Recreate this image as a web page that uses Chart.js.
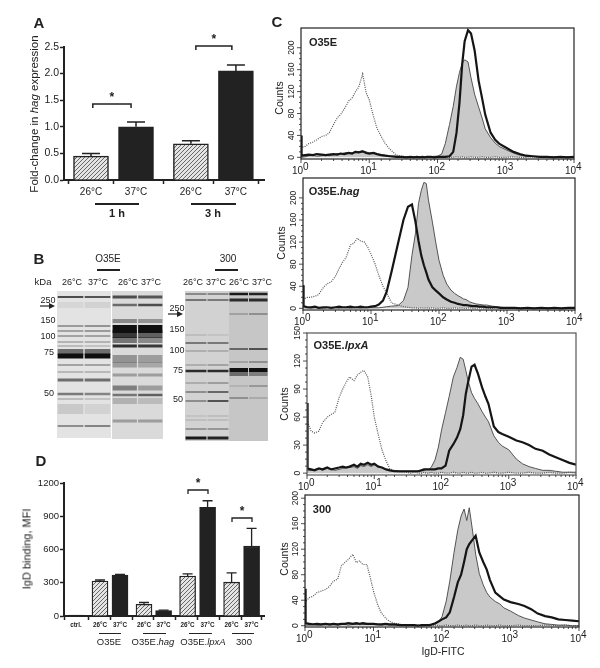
<!DOCTYPE html>
<html>
<head>
<meta charset="utf-8">
<title>hag expression and IgD binding</title>
<script src="https://cdn.jsdelivr.net/npm/chart.js@4"></script>
<style>
  html, body { margin: 0; padding: 0; background: #fff; }
  #page { position: relative; width: 600px; height: 668px; overflow: hidden; font-family: "Liberation Sans", Arial, sans-serif; color: #222; filter: blur(0.3px); }
  canvas { position: absolute; }
  canvas.gel { filter: blur(0.7px); }
  .t { position: absolute; transform: translate(-50%, -50%); white-space: nowrap; font-size: 10px; line-height: 1; }
  .v { transform: translate(-50%, -50%) rotate(-90deg); }
  .b { font-weight: bold; }
  .letter { font-size: 15px; font-weight: bold; }
  .rule { position: absolute; height: 1.5px; background: #222; }
</style>
</head>
<body>
<div id="page">
  <div class="t letter" style="left:39px;top:22px">A</div>
  <div class="t letter" style="left:39px;top:258px">B</div>
  <div class="t letter" style="left:277px;top:21px">C</div>
  <div class="t letter" style="left:41px;top:460px">D</div>

  <canvas id="barsA"></canvas>
  <div class="t v" style="left:35px;top:114px;font-size:11.5px">Fold-change in <i>hag</i> expression</div>
  <div class="rule" style="left:95px;top:203px;width:44px"></div>
  <div class="rule" style="left:191px;top:203px;width:45px"></div>
  <div class="t b" style="left:117px;top:213px;font-size:11px">1 h</div>
  <div class="t b" style="left:213px;top:213px;font-size:11px">3 h</div>

  <div class="t" style="left:108px;top:259px;font-size:10px">O35E</div>
  <div class="rule" style="left:97px;top:269px;width:23px"></div>
  <div class="t" style="left:228px;top:259px;font-size:10px">300</div>
  <div class="rule" style="left:215px;top:269px;width:23px"></div>
  <div class="t" style="left:43px;top:282px;font-size:9.5px">kDa</div>
  <div class="t" style="left:72px;top:282px;font-size:9px">26°C</div>
  <div class="t" style="left:98px;top:282px;font-size:9px">37°C</div>
  <div class="t" style="left:128px;top:282px;font-size:9px">26°C</div>
  <div class="t" style="left:151px;top:282px;font-size:9px">37°C</div>
  <div class="t" style="left:193px;top:282px;font-size:9px">26°C</div>
  <div class="t" style="left:216px;top:282px;font-size:9px">37°C</div>
  <div class="t" style="left:239px;top:282px;font-size:9px">26°C</div>
  <div class="t" style="left:262px;top:282px;font-size:9px">37°C</div>
  <canvas id="gel1" class="gel"></canvas>
  <canvas id="gel2" class="gel"></canvas>
  <canvas id="gel3" class="gel"></canvas>
  <canvas id="gel4" class="gel"></canvas>
  <div class="t" style="left:48px;top:300px;font-size:9px">250</div>
  <div class="t" style="left:48px;top:320px;font-size:9px">150</div>
  <div class="t" style="left:48px;top:336px;font-size:9px">100</div>
  <div class="t" style="left:49px;top:352px;font-size:9px">75</div>
  <div class="t" style="left:49px;top:393px;font-size:9px">50</div>
  <div class="t" style="left:177px;top:308px;font-size:9px">250</div>
  <div class="t" style="left:177px;top:329px;font-size:9px">150</div>
  <div class="t" style="left:177px;top:350px;font-size:9px">100</div>
  <div class="t" style="left:178px;top:370px;font-size:9px">75</div>
  <div class="t" style="left:178px;top:399px;font-size:9px">50</div>
  <svg style="position:absolute;left:40px;top:302px" width="16" height="8"><path d="M0 4H10" stroke="#222" stroke-width="1.2"/><path d="M9 1L15 4L9 7Z" fill="#222"/></svg>
  <svg style="position:absolute;left:168px;top:310px" width="16" height="8"><path d="M0 4H10" stroke="#222" stroke-width="1.2"/><path d="M9 1L15 4L9 7Z" fill="#222"/></svg>

  <canvas id="barsD"></canvas>
  <div class="t v" style="left:27px;top:549px;font-size:11px">IgD binding, MFI</div>
  <div class="rule" style="left:99px;top:633px;width:22px;height:1px"></div>
  <div class="rule" style="left:143px;top:633px;width:23px;height:1px"></div>
  <div class="rule" style="left:189px;top:633px;width:23px;height:1px"></div>
  <div class="rule" style="left:232px;top:633px;width:22px;height:1px"></div>
  <div class="t" style="left:109px;top:642px;font-size:9.5px">O35E</div>
  <div class="t" style="left:153px;top:642px;font-size:9.5px">O35E.<i>hag</i></div>
  <div class="t" style="left:203px;top:642px;font-size:9.5px">O35E.<i>lpxA</i></div>
  <div class="t" style="left:244px;top:642px;font-size:9.5px">300</div>

  <canvas id="flow1"></canvas>
  <canvas id="flow2"></canvas>
  <canvas id="flow3"></canvas>
  <canvas id="flow4"></canvas>
  <div class="t v" style="left:279px;top:98px;font-size:10.5px">Counts</div>
  <div class="t v" style="left:281px;top:243px;font-size:10.5px">Counts</div>
  <div class="t v" style="left:284px;top:404px;font-size:10.5px">Counts</div>
  <div class="t v" style="left:284px;top:559px;font-size:10.5px">Counts</div>
  <div class="t b" style="left:323px;top:42px;font-size:11px">O35E</div>
  <div class="t b" style="left:334px;top:191px;font-size:11px">O35E.<i>hag</i></div>
  <div class="t b" style="left:341px;top:345px;font-size:11px">O35E.<i>lpxA</i></div>
  <div class="t b" style="left:322px;top:509px;font-size:11px">300</div>
  <div class="t" style="left:443px;top:651px;font-size:10.5px">IgD-FITC</div>
</div>

<script>
// panel A
const hagLabels = ["26°C", "37°C", "26°C", "37°C"];
const hagSlots = [0, 1, 2.22, 3.22];
const hagValues = [0.45, 1.0, 0.68, 2.05];
const hagErrors = [0.05, 0.09, 0.06, 0.11];

// panel D
const igdLabels = ["ctrl.", "26°C", "37°C", "26°C", "37°C", "26°C", "37°C", "26°C", "37°C"];
const igdSlots = [0, 1.2, 2.2, 3.4, 4.38, 5.58, 6.58, 7.78, 8.78];
const igdValues = [8, 315, 370, 105, 50, 360, 980, 305, 630];
const igdErrors = [0, 10, 5, 17, 3, 20, 60, 85, 160];

// panel B, band position down the gel, band thickness, then darkness per lane
const gel1Pos = [6, 14, 35, 40, 45, 51, 55, 61, 65, 74, 81, 89, 103, 108, 118, 135];
const gel1Thick = [1.5, 6, 1.5, 1.5, 1.5, 1.5, 1.5, 6, 5, 2, 2, 3, 2.5, 1.5, 10, 2];
const gel1Lane26 = [0.95, 0.06, 0.45, 0.4, 0.4, 0.3, 0.25, 0.55, 1, 0.3, 0.2, 0.55, 0.5, 0.25, 0.12, 0.4];
const gel1Lane37 = [0.9, 0.08, 0.5, 0.45, 0.4, 0.3, 0.2, 0.55, 1, 0.3, 0.2, 0.55, 0.45, 0.2, 0.08, 0.45];

const gel2Pos = [6, 14, 30, 38, 43, 49, 55, 68, 74, 84, 97, 104, 110, 130];
const gel2Thick = [3, 2.5, 4, 8, 8, 6, 3, 8, 5, 3, 5, 2.5, 6, 3];
const gel2Lane26 = [0.7, 0.55, 0.4, 1, 0.8, 0.5, 0.85, 0.35, 0.3, 0.3, 0.45, 0.5, 0.2, 0.3];
const gel2Lane37 = [0.65, 0.7, 0.35, 1, 0.6, 0.4, 0.8, 0.3, 0.25, 0.3, 0.3, 0.6, 0.15, 0.3];

const gel3Pos = [3, 9, 44, 52, 60, 74, 80, 92, 101, 110, 125, 129, 138, 147];
const gel3Thick = [1, 1.2, 1, 1.3, 1.2, 1.2, 2.5, 1.5, 2, 2, 1, 1, 2, 3];
const gel3Lane26 = [0.75, 0.8, 0.2, 0.7, 0.3, 0.3, 0.85, 0.25, 0.35, 0.35, 0.15, 0.2, 0.3, 0.95];
const gel3Lane37 = [0.75, 0.75, 0.15, 0.7, 0.3, 0.4, 0.85, 0.35, 0.55, 0.65, 0.2, 0.2, 0.3, 0.9];

const gel4Pos = [3, 9, 23, 58, 71, 79, 83, 95, 107];
const gel4Thick = [2.5, 3, 1, 1.5, 2, 4, 4, 2, 2];
const gel4Lane26 = [0.95, 0.85, 0.4, 0.7, 0.2, 1, 0.5, 0.1, 0.3];
const gel4Lane37 = [0.9, 0.85, 0.6, 0.85, 0.3, 1, 0.4, 0.25, 0.15];

// panel C, IgD-FITC channel shared by every histogram
const fitcChannels = [
  1, 1.02, 1.15, 1.3, 1.5, 1.7, 2, 2.3, 2.6, 3, 3.4, 3.8, 4.3, 5, 5.6, 6.3, 7, 8, 9,
  10, 11.5, 13, 15, 17, 20, 25, 30, 35, 40, 45, 50, 55, 60, 65, 70, 80, 90,
  100, 115, 130, 150, 170, 190, 210, 230, 250, 280, 310, 350, 400, 450, 500, 600, 700, 800,
  1000, 1300, 1600, 2000, 2500, 3200, 4000, 5000, 6300, 8000, 10000
];

const o35eIsotype = [
  16, 18, 20, 25, 28, 32, 38, 40, 45, 60, 72, 78, 88, 103, 108, 120, 128, 152, 118,
  105, 75, 53, 38, 26, 15, 4, 2, 1, 1, 0, 1, 0, 0, 1, 0, 0, 1,
  1, 0, 1, 0, 0, 1, 0, 1, 0, 0, 1, 0, 0, 1, 0, 0, 1, 0,
  0, 1, 0, 0, 1, 0, 0, 1, 0, 0, 0
];
const o35e26 = [
  0, 0, 1, 3, 4, 2, 3, 4, 3, 5, 7, 6, 8, 9, 8, 11, 10, 12, 10,
  8, 9, 6, 5, 4, 3, 2, 1, 1, 0, 1, 0, 1, 0, 1, 0, 1, 2,
  2, 6, 25, 60, 93, 130, 155, 172, 178, 174, 145, 115, 92, 72, 52, 36, 26, 20,
  14, 8, 4, 2, 2, 1, 1, 1, 0, 1, 1
];
const o35e37 = [
  40, 3, 4, 5, 4, 6, 5, 4, 5, 6, 5, 7, 6, 8, 7, 10, 9, 11, 8,
  7, 8, 6, 4, 3, 2, 1, 1, 0, 1, 0, 1, 0, 1, 0, 1, 1, 0,
  1, 1, 1, 2, 10, 45, 100, 170, 212, 232, 226, 195, 140, 108, 78, 45, 32, 25,
  18, 10, 6, 3, 2, 1, 1, 0, 1, 0, 1
];

const hagIsotype = [
  18, 17, 20, 20, 22, 25, 38, 45, 48, 58, 72, 83, 92, 115, 118, 127, 122, 120, 110,
  98, 80, 60, 40, 28, 10, 6, 3, 2, 1, 1, 0, 1, 0, 1, 0, 1, 0,
  0, 1, 0, 0, 1, 0, 1, 0, 0, 1, 0, 0, 1, 0, 0, 0, 1, 0,
  0, 0, 1, 0, 0, 1, 0, 0, 0, 1, 0
];
const hag26 = [
  1, 1, 1, 0, 1, 1, 0, 1, 1, 1, 0, 1, 1, 0, 1, 1, 0, 1, 1,
  1, 1, 1, 2, 3, 4, 5, 14, 38, 96, 135, 190, 214, 228, 226, 196, 156, 118,
  87, 60, 44, 33, 27, 23, 20, 17, 16, 12, 10, 8, 7, 6, 6, 4, 3, 2,
  1, 1, 0, 1, 0, 0, 1, 0, 0, 1, 0
];
const hag37 = [
  42, 4, 2, 2, 3, 1, 2, 2, 1, 2, 3, 2, 2, 3, 2, 2, 3, 2, 2,
  3, 4, 7, 14, 30, 66, 118, 160, 184, 188, 157, 122, 95, 78, 65, 52, 38, 32,
  27, 20, 16, 12, 10, 8, 7, 6, 6, 5, 4, 4, 3, 3, 2, 2, 2, 1,
  1, 1, 0, 1, 0, 1, 0, 1, 0, 1, 1
];

const lpxaIsotype = [
  41, 55, 45, 43, 45, 54, 60, 63, 65, 81, 90, 97, 103, 99, 105, 108, 110, 103, 83,
  60, 41, 25, 13, 5, 2, 1, 1, 0, 1, 0, 0, 1, 0, 0, 1, 0, 0,
  1, 0, 0, 1, 0, 0, 1, 0, 0, 1, 0, 0, 1, 0, 0, 1, 0, 0,
  1, 0, 0, 1, 0, 0, 1, 0, 0, 1, 0
];
const lpxa26 = [
  3, 3, 3, 4, 5, 3, 5, 4, 3, 4, 5, 6, 6, 7, 5, 8, 7, 9, 7,
  9, 6, 6, 4, 3, 3, 2, 2, 2, 2, 2, 3, 3, 4, 4, 6, 14, 28,
  46, 65, 82, 103, 113, 124, 122, 110, 98, 86, 80, 74, 66, 60, 55, 40, 33, 29,
  25, 15, 10, 7, 5, 3, 3, 2, 1, 1, 1
];
const lpxa37 = [
  75, 5, 4, 3, 5, 4, 6, 4, 5, 6, 7, 6, 7, 9, 7, 10, 9, 11, 9,
  10, 7, 6, 4, 3, 2, 2, 2, 2, 2, 2, 3, 4, 4, 4, 4, 4, 5,
  5, 8, 24, 31, 38, 47, 62, 85, 98, 114, 116, 106, 92, 82, 74, 50, 44, 42,
  39, 35, 33, 30, 26, 24, 20, 17, 14, 11, 9
];

const s300Isotype = [
  36, 38, 44, 46, 52, 54, 57, 62, 70, 73, 94, 99, 104, 112, 99, 102, 96, 96, 75,
  54, 33, 20, 12, 7, 4, 2, 1, 1, 0, 1, 0, 0, 1, 0, 0, 1, 0,
  0, 1, 0, 0, 1, 0, 0, 1, 0, 0, 1, 0, 0, 1, 0, 0, 1, 0,
  0, 1, 0, 0, 0, 1, 0, 0, 1, 0, 0
];
const s30026 = [
  1, 1, 1, 2, 1, 1, 2, 1, 2, 1, 2, 2, 1, 2, 2, 3, 2, 2, 3,
  2, 2, 1, 2, 1, 1, 1, 0, 1, 0, 1, 0, 0, 1, 0, 1, 3, 7,
  14, 38, 70, 115, 150, 172, 183, 165, 185, 148, 112, 82, 64, 52, 45, 38, 34, 28,
  23, 16, 12, 9, 6, 3, 2, 1, 1, 0, 0
];
const s30037 = [
  58, 4, 3, 2, 3, 2, 3, 2, 3, 2, 3, 3, 4, 3, 4, 3, 4, 3, 3,
  3, 2, 2, 3, 2, 2, 1, 1, 1, 1, 0, 1, 1, 1, 1, 2, 4, 7,
  10, 13, 21, 45, 68, 80, 100, 120, 128, 135, 141, 115, 100, 88, 72, 52, 46, 41,
  37, 34, 31, 26, 19, 15, 13, 10, 9, 8, 7
];

// diagonal hatch used for the 26°C bars
function hatchPattern() {
  const c = document.createElement("canvas");
  c.width = 4;
  c.height = 4;
  const g = c.getContext("2d");
  g.fillStyle = "#e4e4e4";
  g.fillRect(0, 0, 4, 4);
  g.strokeStyle = "#666";
  g.lineWidth = 1;
  g.beginPath();
  g.moveTo(-1, 1); g.lineTo(1, -1);
  g.moveTo(0, 4); g.lineTo(4, 0);
  g.moveTo(3, 5); g.lineTo(5, 3);
  g.stroke();
  return document.getElementsByTagName("canvas")[0].getContext("2d").createPattern(c, "repeat");
}

function place(id, left, top, width, height) {
  const canvas = document.getElementById(id);
  canvas.width = width;
  canvas.height = height;
  canvas.style.left = left + "px";
  canvas.style.top = top + "px";
  return canvas;
}

// error whiskers and significance brackets, placed through the chart's scales
const barMarks = {
  id: "barMarks",
  afterDatasetsDraw(chart, args, opts) {
    const { ctx, scales: { x, y } } = chart;
    ctx.save();
    ctx.strokeStyle = "#222";
    ctx.fillStyle = "#222";
    ctx.lineWidth = opts.lineWidth;
    opts.slots.forEach((slot, i) => {
      if (!opts.errors[i]) return;
      const px = x.getPixelForValue(slot);
      const top = y.getPixelForValue(opts.values[i] + opts.errors[i]);
      ctx.beginPath();
      ctx.moveTo(px, y.getPixelForValue(opts.values[i]));
      ctx.lineTo(px, top);
      ctx.moveTo(px - opts.cap, top);
      ctx.lineTo(px + opts.cap, top);
      ctx.stroke();
    });
    ctx.textAlign = "center";
    ctx.textBaseline = "middle";
    ctx.font = "bold 12px 'Liberation Sans'";
    opts.brackets.forEach(([from, to, level]) => {
      const x0 = x.getPixelForValue(from);
      const x1 = x.getPixelForValue(to);
      const py = y.getPixelForValue(level);
      ctx.beginPath();
      ctx.moveTo(x0, py + 4);
      ctx.lineTo(x0, py);
      ctx.lineTo(x1, py);
      ctx.lineTo(x1, py + 4);
      ctx.stroke();
      ctx.fillText("*", (x0 + x1) / 2, py - 6);
    });
    ctx.restore();
  }
};

function makeBars(id, box, cfg) {
  const canvas = place(id, box.left, box.top, box.width, box.height);
  const pattern = hatchPattern();
  return new Chart(canvas, {
    type: "bar",
    data: {
      datasets: [{
        data: cfg.slots.map((x, i) => ({ x, y: cfg.values[i] })),
        backgroundColor: cfg.slots.map((x, i) => cfg.hatched(i) ? pattern : "#222"),
        borderColor: "#222",
        borderWidth: cfg.barBorder,
        barThickness: cfg.barPx
      }]
    },
    options: {
      responsive: false,
      animation: false,
      layout: { padding: { top: box.padTop, right: box.padRight, left: 0, bottom: 0 } },
      plugins: {
        legend: { display: false },
        tooltip: { enabled: false },
        barMarks: {
          slots: cfg.slots, values: cfg.values, errors: cfg.errors,
          brackets: cfg.brackets, cap: cfg.cap, lineWidth: cfg.markWidth
        }
      },
      scales: {
        x: {
          type: "linear", min: cfg.xMin, max: cfg.xMax, offset: false,
          border: { color: "#222", width: 2 },
          grid: { drawOnChartArea: false, tickLength: 4, tickColor: "#222", tickWidth: 1.5 },
          afterBuildTicks: s => { s.ticks = cfg.slots.map(value => ({ value })); },
          afterFit: s => { s.height = box.axisBottom; },
          ticks: {
            autoSkip: false, maxRotation: 0, padding: cfg.xPad, color: "#222",
            font: { family: "Liberation Sans", size: cfg.xFont, weight: cfg.xWeight },
            callback: (v, i) => cfg.labels[i]
          }
        },
        y: {
          min: 0, max: cfg.yMax,
          border: { color: "#222", width: 2 },
          grid: { drawOnChartArea: false, tickLength: 4, tickColor: "#222", tickWidth: 1.5 },
          afterBuildTicks: s => { s.ticks = cfg.yTicks.map(value => ({ value })); },
          afterFit: s => { s.width = box.axisLeft; },
          ticks: {
            padding: 1, color: "#222",
            font: { family: "Liberation Sans", size: cfg.yFont },
            callback: cfg.yFormat
          }
        }
      }
    },
    plugins: [barMarks]
  });
}

// one gel: floating bars on two lanes, hidden axes
function makeGel(id, box, pos, thick, lane26, lane37) {
  const canvas = place(id, box.left, box.top, box.width, box.height);
  canvas.style.background = box.bg;
  return new Chart(canvas, {
    type: "bar",
    data: {
      labels: ["26°C", "37°C"],
      datasets: pos.map((p, i) => ({
        data: [[p - thick[i] / 2, p + thick[i] / 2], [p - thick[i] / 2, p + thick[i] / 2]],
        backgroundColor: [`rgba(15,15,15,${lane26[i]})`, `rgba(15,15,15,${lane37[i]})`],
        borderWidth: 0,
        grouped: false,
        barPercentage: 0.95,
        categoryPercentage: 1
      }))
    },
    options: {
      responsive: false,
      animation: false,
      layout: { padding: 0 },
      plugins: { legend: { display: false }, tooltip: { enabled: false } },
      scales: {
        x: { display: false },
        y: { display: false, reverse: true, min: 0, max: box.height }
      }
    }
  });
}

// frame, ticks and tick labels of a flow histogram
const flowFrame = {
  id: "flowFrame",
  afterDatasetsDraw(chart, args, opts) {
    const { ctx, chartArea: a, scales: { x, y } } = chart;
    ctx.save();
    ctx.strokeStyle = opts.frameColor;
    ctx.lineWidth = 1.2;
    ctx.strokeRect(a.left, a.top, a.right - a.left, a.bottom - a.top);
    ctx.strokeStyle = "#222";
    ctx.fillStyle = "#222";
    ctx.lineWidth = 0.8;
    x.ticks.forEach(t => {
      const px = x.getPixelForValue(t.value);
      const decade = Math.log10(t.value);
      const major = Number.isInteger(Math.round(decade * 1000) / 1000);
      ctx.beginPath();
      ctx.moveTo(px, a.bottom);
      ctx.lineTo(px, a.bottom + (major ? 4 : 2));
      ctx.stroke();
      if (major) {
        ctx.font = "10px 'Liberation Sans'";
        ctx.textBaseline = "alphabetic";
        ctx.textAlign = "right";
        ctx.fillText("10", px + 2, a.bottom + 15);
        ctx.textAlign = "left";
        ctx.fillText(String(Math.round(decade)), px + 2, a.bottom + 11);
      }
    });
    opts.yTicks.forEach((v, i) => {
      const py = y.getPixelForValue(v);
      ctx.beginPath();
      ctx.moveTo(a.left, py);
      ctx.lineTo(a.left - 4, py);
      ctx.stroke();
      for (let k = 1; k < 4 && i < opts.yTicks.length - 1; k++) {
        const my = y.getPixelForValue(v + k * (opts.yTicks[1] - opts.yTicks[0]) / 4);
        ctx.beginPath();
        ctx.moveTo(a.left, my);
        ctx.lineTo(a.left - 2, my);
        ctx.stroke();
      }
      ctx.save();
      ctx.translate(a.left - 9, py);
      ctx.rotate(-Math.PI / 2);
      ctx.font = "8.5px 'Liberation Sans'";
      ctx.textAlign = "center";
      ctx.textBaseline = "middle";
      ctx.fillText(String(v), 0, 0);
      ctx.restore();
    });
    ctx.restore();
  }
};

function toPoints(values) {
  return fitcChannels.map((x, i) => ({ x, y: values[i] }));
}

function makeFlow(id, frame, iso, shaded, thick, yMin, yMax, yTicks, frameColor) {
  const padLeft = 20, padTop = 8, padRight = 14, padBottom = 20;
  const canvas = place(id, frame.l - padLeft, frame.t - padTop,
    frame.r - frame.l + padLeft + padRight, frame.b - frame.t + padTop + padBottom);
  return new Chart(canvas, {
    type: "line",
    data: {
      datasets: [
        { data: toPoints(thick), borderColor: "#151515", borderWidth: 2.2, fill: false },
        { data: toPoints(iso), borderColor: "#555", borderWidth: 1.2, borderDash: [1, 1.2], fill: false },
        { data: toPoints(shaded), borderColor: "#444", borderWidth: 0.9, backgroundColor: "#c9c9c9", fill: "origin" }
      ]
    },
    options: {
      responsive: false,
      animation: false,
      elements: { point: { radius: 0 }, line: { tension: 0 } },
      layout: { padding: { left: 0, top: padTop, right: padRight, bottom: 0 } },
      plugins: {
        legend: { display: false },
        tooltip: { enabled: false },
        flowFrame: { yTicks, frameColor }
      },
      scales: {
        x: {
          type: "logarithmic", min: 1, max: 10000,
          border: { display: false }, grid: { display: false },
          ticks: { display: false, autoSkip: false },
          afterFit: s => { s.height = padBottom; }
        },
        y: {
          min: yMin, max: yMax,
          border: { display: false }, grid: { display: false },
          ticks: { display: false },
          afterFit: s => { s.width = padLeft; }
        }
      }
    },
    plugins: [flowFrame]
  });
}

makeBars("barsA",
  { left: 20, top: 30, width: 250, height: 172, padTop: 17, padRight: 6, axisLeft: 44, axisBottom: 22 },
  {
    slots: hagSlots, values: hagValues, errors: hagErrors, labels: hagLabels,
    hatched: i => i % 2 === 0,
    xMin: -0.6, xMax: 3.844, yMax: 2.5, yTicks: [0, 0.5, 1, 1.5, 2, 2.5],
    yFormat: v => v.toFixed(1), yFont: 10.5, xFont: 10, xWeight: "normal", xPad: 2,
    barPx: 35, barBorder: 1.5, cap: 9, markWidth: 1.5,
    brackets: [[0.04, 0.89, 1.43], [2.33, 3.13, 2.52]]
  });

makeBars("barsD",
  { left: 20, top: 474, width: 250, height: 160, padTop: 9, padRight: 6, axisLeft: 44, axisBottom: 18 },
  {
    slots: igdSlots, values: igdValues, errors: igdErrors, labels: igdLabels,
    hatched: i => i > 0 && i % 2 === 1,
    xMin: -0.6, xMax: 9.4, yMax: 1200, yTicks: [0, 300, 600, 900, 1200],
    yFormat: v => String(v), yFont: 9.5, xFont: 6.3, xWeight: "bold", xPad: 1,
    barPx: 16, barBorder: 1.3, cap: 5, markWidth: 1.3,
    brackets: [[5.6, 6.6, 1137], [7.8, 8.8, 884]]
  });

makeGel("gel1", { left: 57, top: 291, width: 54, height: 147, bg: "#e3e3e3" }, gel1Pos, gel1Thick, gel1Lane26, gel1Lane37);
makeGel("gel2", { left: 112, top: 291, width: 51, height: 148, bg: "#dadada" }, gel2Pos, gel2Thick, gel2Lane26, gel2Lane37);
makeGel("gel3", { left: 185, top: 291, width: 44, height: 150, bg: "#d2d2d2" }, gel3Pos, gel3Thick, gel3Lane26, gel3Lane37);
makeGel("gel4", { left: 229, top: 291, width: 39, height: 150, bg: "#c6c6c6" }, gel4Pos, gel4Thick, gel4Lane26, gel4Lane37);

makeFlow("flow1", { l: 301, t: 28, r: 574, b: 159 }, o35eIsotype, o35e26, o35e37, -3, 236, [0, 40, 80, 120, 160, 200], "#222");
makeFlow("flow2", { l: 303, t: 178, r: 575, b: 310 }, hagIsotype, hag26, hag37, -3, 236, [0, 40, 80, 120, 160, 200], "#222");
makeFlow("flow3", { l: 307, t: 333, r: 576, b: 475 }, lpxaIsotype, lpxa26, lpxa37, -2, 150, [0, 30, 60, 90, 120, 150], "#555");
makeFlow("flow4", { l: 305, t: 495, r: 579, b: 627 }, s300Isotype, s30026, s30037, -2, 205, [0, 40, 80, 120, 160, 200], "#222");
</script>
</body>
</html>
